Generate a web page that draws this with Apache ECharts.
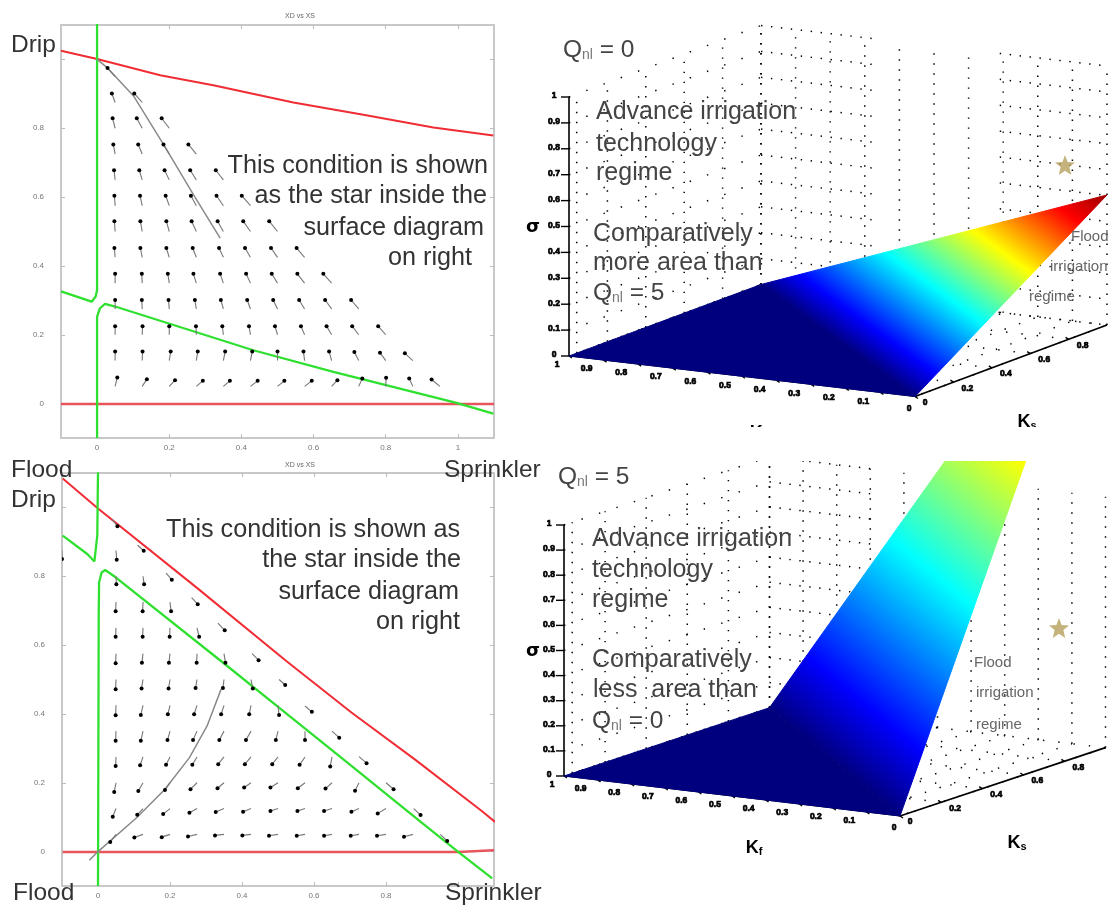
<!DOCTYPE html>
<html><head><meta charset="utf-8">
<style>html,body{margin:0;padding:0;background:#fff}#c{width:1116px;height:909px;filter:blur(0.7px)}</style>
<script src="https://cdn.jsdelivr.net/npm/echarts@6/dist/echarts.min.js"></script>
</head><body><div id="c"></div>
<script>
const phaseTicks=[0,0.2,0.4,0.6,0.8,1];
const phaseTickLabelsY=[0,0.2,0.4,0.6,0.8];
const phaseTickLabelsXA=[0,0.2,0.4,0.6,0.8,1];
const phaseTickLabelsXB=[0,0.2,0.4,0.6,0.8];
const redTopA=[[-0.1,1.025],[0,1.001],[0.175,0.954],[0.322,0.925],[0.544,0.875],[0.738,0.839],[0.932,0.802],[1.098,0.779]];
const greenUpperA=[[-0.1,0.326],[-0.015,0.296],[-0.004,0.311],[0,0.33],[0,1.103]];
const greenLowerA=[[0,-0.1],[0,0.253],[0.008,0.277],[0.022,0.29],[0.05,0.282],[0.433,0.155],[0.655,0.092],[0.996,0.002],[1.098,-0.029]];
const redBaseA=[[-0.1,-0.001],[1.1,-0.001]];
const orbitA=[[0,1],[0.027,0.977],[0.101,0.894],[0.184,0.753],[0.267,0.607],[0.341,0.481]];
const redTopB=[[-0.098,1.084],[0,0.997],[0.274,0.767],[0.523,0.554],[0.704,0.404],[0.88,0.268],[1.066,0.118],[1.103,0.086]];
const greenUpperB=[[-0.098,0.918],[-0.029,0.864],[-0.01,0.843],[-0.002,0.918],[0,1.102]];
const greenLowerB=[[0,-0.1],[0.002,0.685],[0.003,0.782],[0.01,0.811],[0.02,0.818],[0.049,0.797],[0.352,0.545],[0.508,0.414],[0.704,0.249],[0.899,0.084],[0.997,0.002],[1.095,-0.078]];
const redBaseB=[[-0.098,-0.001],[1,-0.001],[1.1,0.004]];
const orbitB=[[-0.024,-0.025],[0,0],[0.108,0.099],[0.186,0.181],[0.254,0.273],[0.303,0.365],[0.342,0.472]];
// tail x, tail y, head x, head y
const fieldA=[
[.05,.05,.056,.076],[.125,.05,.138,.071],[.2,.05,.216,.068],[.275,.05,.293,.066],[.35,.05,.368,.066],[.425,.05,.445,.066],[.5,.05,.519,.066],[.575,.05,.595,.066],[.65,.05,.666,.068],[.725,.05,.735,.073],[.8,.05,.801,.075],[.875,.05,.865,.073],[.95,.05,.927,.07],
[.05,.125,.05,.151],[.125,.125,.126,.151],[.2,.125,.204,.151],[.275,.125,.279,.151],[.35,.125,.355,.151],[.425,.125,.43,.151],[.5,.125,.5,.151],[.575,.125,.572,.151],[.65,.125,.643,.151],[.725,.125,.713,.15],[.8,.125,.784,.148],[.875,.125,.853,.146],
[.05,.2,.05,.225],[.125,.2,.126,.225],[.2,.2,.2,.225],[.275,.2,.274,.225],[.35,.2,.347,.225],[.425,.2,.421,.225],[.5,.2,.493,.225],[.575,.2,.565,.225],[.65,.2,.636,.225],[.725,.2,.707,.225],[.8,.2,.779,.225],
[.05,.275,.05,.301],[.125,.275,.124,.301],[.2,.275,.198,.301],[.275,.275,.271,.301],[.35,.275,.343,.301],[.425,.275,.416,.301],[.5,.275,.488,.301],[.575,.275,.56,.301],[.65,.275,.632,.301],[.725,.275,.704,.301],
[.05,.35,.05,.377],[.125,.35,.124,.377],[.2,.35,.196,.377],[.275,.35,.267,.377],[.35,.35,.341,.377],[.425,.35,.413,.377],[.5,.35,.484,.377],[.575,.35,.555,.377],[.65,.35,.627,.377],
[.05,.425,.048,.452],[.125,.425,.12,.452],[.2,.425,.192,.452],[.275,.425,.265,.452],[.35,.425,.338,.452],[.425,.425,.41,.452],[.5,.425,.482,.452],[.575,.425,.553,.452],
[.05,.5,.048,.53],[.125,.5,.12,.53],[.2,.5,.192,.53],[.275,.5,.262,.53],[.35,.5,.334,.53],[.425,.5,.405,.53],[.5,.5,.477,.53],
[.05,.575,.048,.604],[.125,.575,.119,.604],[.2,.575,.19,.604],[.275,.575,.26,.604],[.35,.575,.331,.604],[.425,.575,.401,.604],
[.05,.65,.047,.678],[.125,.65,.117,.678],[.2,.65,.187,.678],[.275,.65,.258,.678],[.35,.65,.329,.678],
[.05,.725,.045,.753],[.125,.725,.114,.753],[.2,.725,.184,.753],[.275,.725,.253,.753],
[.05,.8,.043,.829],[.125,.8,.11,.829],[.2,.8,.179,.829],
[.05,.875,.041,.901],[.125,.875,.103,.901],
[.05,.95,.029,.975]];
const fieldB=[
[.05,.05,.034,.028],[.125,.05,.101,.041],[.2,.05,.177,.042],[.275,.05,.25,.044],[.35,.05,.325,.047],[.425,.05,.401,.047],[.5,.05,.475,.046],[.575,.05,.552,.046],[.65,.05,.628,.046],[.725,.05,.702,.046],[.8,.05,.775,.046],[.875,.05,.85,.043],[.951,.05,.97,.031],
[.05,.125,.041,.101],[.125,.125,.109,.107],[.2,.125,.181,.109],[.275,.125,.254,.113],[.35,.125,.327,.115],[.425,.125,.403,.116],[.5,.125,.479,.118],[.575,.125,.554,.118],[.65,.125,.628,.118],[.725,.125,.704,.116],[.8,.125,.777,.111],[.877,.125,.896,.106],
[.05,.2,.045,.173],[.125,.2,.112,.176],[.2,.2,.186,.179],[.275,.2,.257,.181],[.35,.2,.332,.184],[.425,.2,.406,.186],[.5,.2,.479,.186],[.575,.2,.555,.184],[.65,.2,.632,.183],[.725,.2,.714,.177],[.8,.2,.821,.181],
[.05,.275,.049,.249],[.125,.275,.117,.251],[.2,.275,.189,.252],[.275,.275,.262,.252],[.35,.275,.334,.254],[.425,.275,.408,.254],[.5,.275,.484,.254],[.575,.275,.56,.252],[.65,.275,.645,.247],[.725,.276,.746,.257],
[.05,.35,.049,.322],[.125,.35,.119,.322],[.2,.35,.193,.324],[.275,.35,.264,.324],[.35,.35,.337,.324],[.425,.35,.411,.324],[.5,.35,.494,.324],[.575,.35,.575,.324],[.65,.35,.67,.331],
[.05,.425,.049,.396],[.125,.425,.119,.397],[.2,.425,.194,.399],[.275,.425,.267,.399],[.35,.425,.342,.399],[.425,.425,.42,.399],[.5,.425,.503,.397],[.575,.423,.594,.406],
[.05,.5,.049,.472],[.125,.5,.121,.474],[.2,.5,.196,.474],[.275,.5,.271,.475],[.35,.5,.347,.475],[.425,.5,.43,.474],[.503,.5,.52,.484],
[.05,.575,.049,.547],[.125,.575,.122,.549],[.2,.575,.197,.549],[.275,.575,.274,.549],[.35,.575,.354,.549],[.428,.575,.446,.556],
[.05,.65,.049,.624],[.125,.65,.124,.624],[.2,.65,.199,.624],[.275,.65,.281,.624],[.333,.664,.352,.643],
[.05,.725,.049,.698],[.125,.725,.124,.698],[.2,.725,.203,.698],[.26,.738,.277,.719],
[.05,.8,.051,.777],[.125,.8,.128,.777],[.189,.809,.205,.79],
[.05,.875,.052,.848],[.11,.89,.127,.874],
[.039,.966,.054,.945],
[-.1,.875,-.1,.85]];

// surface corners as [Kf, Ks, height]
const flatZero=[[1,0,0],[1,1,0],[0,0,0]];
const rampZero=[[1,1,0],[0,0,0],[0,1,0.502]];
const flatFive=[[1,0,0],[1,1,0],[0,0,0]];
const rampFive=[[1,1,0],[0,0,0],[0,1,2.04]];
const starZero=[545,165];
const starFive=[539,628];
const jetStops=[[0,'#00007f'],[0.11,'#0000ff'],[0.36,'#00ffff'],[0.61,'#ffff00'],[0.86,'#ff0000'],[1,'#9b0000']];
const heightTicks=[0,0.1,0.2,0.3,0.4,0.5,0.6,0.7,0.8,0.9,1];
const kfTicks=[0,0.1,0.2,0.3,0.4,0.5,0.6,0.7,0.8,0.9,1];
const ksTicks=[0,0.2,0.4,0.6,0.8];
const ksWall=[0.04,0.2,0.4,0.6,0.8,1];
const rowSpansZero=[[1,0.68],[0.31,0]];
const rowSpansFive=[[1,0.68]];

const viewZero={ox:915,oy:396.5,kx:-346,ky:-40.5,sx:192,sy:-71.5,h:259};
const viewFive={ox:900,oy:816,kx:-336,ky:-40,sx:205.5,sy:-68.3,h:251};
const project=(v,p)=>[v.ox+p[0]*v.kx+p[1]*v.sx, v.oy+p[0]*v.ky+p[1]*v.sy-p[2]*v.h];

const chart=echarts.init(document.getElementById('c'),null,{renderer:'canvas'});

const jet=(x1,y1,x2,y2)=>new echarts.graphic.LinearGradient(x1,y1,x2,y2,jetStops.map(s=>({offset:s[0],color:s[1]})),true);

function lineSeries(data,ax,color,width,z){
  return {type:'line',data,xAxisIndex:ax,yAxisIndex:ax,showSymbol:false,symbol:'none',silent:true,animation:false,clip:true,z:z||3,lineStyle:{color,width}};
}
function fieldSeries(data,ax){
  return {type:'custom',xAxisIndex:ax,yAxisIndex:ax,data,silent:true,animation:false,clip:true,z:4,
    encode:{x:0,y:1},
    renderItem:(p,api)=>{
      const t=api.coord([api.value(0),api.value(1)]), h=api.coord([api.value(2),api.value(3)]);
      return {type:'group',children:[
        {type:'line',shape:{x1:t[0],y1:t[1],x2:h[0],y2:h[1]},style:{stroke:'#777',lineWidth:1.1}},
        {type:'circle',shape:{cx:h[0],cy:h[1],r:2},style:{fill:'#000'}}
      ]};
    }};
}
function panelAxes(gi,xa,ya,xLabels){
  const ticks={show:true,inside:true,length:4,lineStyle:{color:'#bbb',width:1},customValues:phaseTicks};
  const line={show:true,onZero:false,lineStyle:{color:'#c8c8c8',width:2}};
  const base={type:'value',min:-0.1,max:1.1,gridIndex:gi,splitLine:{show:false},axisLine:line,axisTick:ticks};
  const lab={color:'#777',fontSize:8,fontFamily:'Liberation Sans',formatter:v=>String(+v.toFixed(1))};
  xa.push({...base,position:'bottom',axisLabel:{...lab,customValues:xLabels,margin:6}});
  ya.push({...base,position:'left',axisLabel:{...lab,customValues:phaseTickLabelsY,margin:17,padding:[0,0,6,0]}});
  return {xTop:{...base,position:'top',axisLabel:{show:false}},yRight:{...base,position:'right',axisLabel:{show:false}}};
}
function plane(gi,xa,ya,x0,x1,y0,y1){
  xa.push({type:'value',gridIndex:gi,min:x0,max:x1,show:false});
  ya.push({type:'value',gridIndex:gi,min:y0,max:y1,inverse:true,show:false});
}
function dotted(view,ax,segs,dash){
  return {type:'custom',xAxisIndex:ax,yAxisIndex:ax,data:segs.map((s,i)=>[i,i]),silent:true,animation:false,clip:true,z:2,
    renderItem:(p,api)=>{
      const s=segs[p.dataIndex], a=api.coord(project(view,s[0])), b=api.coord(project(view,s[1]));
      return {type:'line',shape:{x1:a[0],y1:a[1],x2:b[0],y2:b[1]},style:{stroke:'#000',lineWidth:1.5,lineDash:s[2]||dash}};
    }};
}
function wallSegments(spans){
  const segs=[];
  heightTicks.forEach(h=>{
    segs.push([[1,0,h],[1,1,h],[1.4,17]]);
    spans.forEach(sp=>segs.push([[sp[0],1,h],[sp[1],1,h],[1.4,8.6]]));
  });
  ksWall.forEach(s=>segs.push([[1,s,0],[1,s,1],[1.4,8.6]]));
  kfTicks.forEach(k=>segs.push([[k,1,0],[k,1,1],[1.4,8.6]]));
  kfTicks.forEach(k=>segs.push([[k,0,0],[k,1,0],[1.4,14]]));
  ksWall.forEach(s=>segs.push([[0,s,0],[1,s,0],[1.4,14]]));
  return segs;
}
function surfaceSeries(view,ax,flat,ramp){
  return {type:'custom',xAxisIndex:ax,yAxisIndex:ax,data:[[0,0]],silent:true,animation:false,clip:true,z:5,
    renderItem:(p,api)=>{
      const pts=a=>a.map(q=>api.coord(project(view,q)));
      const F=pts(flat),R=pts(ramp);
      const d=R[0],b=R[1],c=R[2];
      const ex=b[0]-d[0],ey=b[1]-d[1],len=Math.hypot(ex,ey);
      const nx=ey/len,ny=-ex/len;
      const L=(c[0]-d[0])*nx+(c[1]-d[1])*ny;
      const g=jet(d[0],d[1],d[0]+L*nx,d[1]+L*ny);
      return {type:'group',children:[
        {type:'polygon',shape:{points:R},style:{fill:g,stroke:g,lineWidth:1}},
        {type:'polygon',shape:{points:F},style:{fill:'#00007f',stroke:'#00007f',lineWidth:1}}
      ]};
    }};
}
function frameSeries(view,ax,tickLabelFont){
  return {type:'custom',xAxisIndex:ax,yAxisIndex:ax,data:[[0,0]],silent:true,animation:false,clip:false,z:3,
    renderItem:(p,api)=>{
      const at=q=>api.coord(project(view,q));
      const kids=[];
      const seg=(a,b,w)=>kids.push({type:'line',shape:{x1:a[0],y1:a[1],x2:b[0],y2:b[1]},style:{stroke:'#000',lineWidth:w}});
      const txt=(a,dx,dy,s)=>kids.push({type:'text',style:{x:a[0]+dx,y:a[1]+dy,text:s,font:tickLabelFont,fill:'#000',stroke:'#000',lineWidth:0.7,align:'center',verticalAlign:'middle'}});
      seg(at([1,0,0]),at([1,0,1]),1.6);
      heightTicks.forEach(h=>{const a=at([1,0,h]);seg(a,[a[0]-8,a[1]],1.4);txt(a,-15,-1,String(h));});
      seg(at([0,0,0]),at([0,1,0]),1.8);
      seg(at([0,0,0]),at([1,0,0]),1);
      kfTicks.forEach(k=>{const a=at([k,0,0]);seg(a,[a[0]+3,a[1]+2],1.4);txt(a,k===1?-12:k===0?-6:-17,k===0?12:9,String(k));});
      ksTicks.forEach(s=>{const a=at([0,s,0]);seg(a,[a[0]-3,a[1]-2],1.4);txt(a,s===0?10:14,6,String(s));});
      return {type:'group',children:kids};
    }};
}
const starPath='path://M50 0L63 33L100 36L72 58L81 96L50 76L19 96L28 58L0 36L37 33Z';
function starSeries(ax,pt){
  return {type:'scatter',xAxisIndex:ax,yAxisIndex:ax,data:[pt],symbol:starPath,symbolSize:20,silent:true,animation:false,z:8,itemStyle:{color:'#b5a05c'}};
}

const xAxes=[],yAxes=[];
const edgeA=panelAxes(0,xAxes,yAxes,phaseTickLabelsXA);
const edgeB=panelAxes(1,xAxes,yAxes,phaseTickLabelsXB);
plane(2,xAxes,yAxes,0,596,0,450);
plane(3,xAxes,yAxes,0,596,461,909);
xAxes.push(edgeA.xTop,edgeB.xTop); yAxes.push(edgeA.yRight,edgeB.yRight);

const viewZeroLocal={...viewZero,ox:viewZero.ox-520};
const viewFiveLocal={...viewFive,ox:viewFive.ox-520};

const corner={fontFamily:'Liberation Sans',fontSize:24.5,fill:'#333'};
const big={fontFamily:'Liberation Sans',fontSize:25.2,fill:'#333'};
const big25={fontFamily:'Liberation Sans',fontSize:25,fill:'#444'};
const small={fontFamily:'Liberation Sans',fontSize:15,fill:'#666'};
function tx(text,x,y,st,align){return {type:'text',x,y,z:20,silent:true,style:{...st,text,align:align||'left',verticalAlign:'middle'}};}
function qnl(suffix,x,y){
  return {type:'text',x,y,z:20,silent:true,style:{text:'{q|Q}{s|nl}{q| = '+suffix+'}',verticalAlign:'middle',align:'left',
    rich:{q:{fontFamily:'Liberation Sans',fontSize:24.5,fill:'#444',color:'#444'},s:{fontFamily:'Liberation Sans',fontSize:14,fill:'#777',color:'#777',padding:[10,0,0,0]}}}};
}
function kLabel(sub,x,y,z){
  return {type:'text',x,y,z:z||20,silent:true,style:{text:'{k|K}{s|'+sub+'}',verticalAlign:'middle',align:'center',
    rich:{k:{fontFamily:'Liberation Sans',fontWeight:'bold',fontSize:18,fill:'#000',color:'#000'},s:{fontFamily:'Liberation Sans',fontWeight:'bold',fontSize:11,fill:'#000',color:'#000',padding:[8,0,0,0]}}}};
}
function zLabel(y){
  return {type:'text',x:533,y,z:20,silent:true,style:{text:'σ',font:'bold 18px DejaVu Sans',fill:'#000',align:'center',verticalAlign:'middle'}};
}

chart.setOption({
  animation:false,backgroundColor:'#fff',
  title:[
    {text:'XD vs XS',left:295,top:8,textAlign:'center',textStyle:{fontSize:7,fontWeight:'normal',color:'#666',fontFamily:'Liberation Sans'}},
    {text:'XD vs XS',left:295,top:457,textAlign:'center',textStyle:{fontSize:7,fontWeight:'normal',color:'#666',fontFamily:'Liberation Sans'}}
  ],
  grid:[
    {left:61,top:25,width:433,height:413,containLabel:false},
    {left:62,top:473,width:432,height:413,containLabel:false},
    {left:520,top:0,width:596,height:450,containLabel:false},
    {left:520,top:461,width:596,height:448,containLabel:false}
  ],
  xAxis:xAxes,yAxis:yAxes,
  series:[
    lineSeries(redBaseA,0,'#e8545c',2.4),
    lineSeries(redTopA,0,'#f02c34',2),
    lineSeries(greenUpperA,0,'#30e030',2.3),
    lineSeries(greenLowerA,0,'#30e030',2.3),
    lineSeries(orbitA,0,'#8a8a8a',1.5),
    fieldSeries(fieldA,0),
    lineSeries(redBaseB,1,'#e8545c',2.4),
    lineSeries(redTopB,1,'#f02c34',2),
    lineSeries(greenUpperB,1,'#30e030',2.3),
    lineSeries(greenLowerB,1,'#30e030',2.3),
    lineSeries(orbitB,1,'#8a8a8a',1.5),
    fieldSeries(fieldB,1),
    dotted(viewZeroLocal,2,wallSegments(rowSpansZero)),
    frameSeries(viewZeroLocal,2,'bold 8.5px Liberation Sans'),
    surfaceSeries(viewZeroLocal,2,flatZero,rampZero),
    starSeries(2,starZero),
    dotted(viewFiveLocal,3,wallSegments(rowSpansFive)),
    frameSeries(viewFiveLocal,3,'bold 8.5px Liberation Sans'),
    surfaceSeries(viewFiveLocal,3,flatFive,rampFive),
    starSeries(3,starFive)
  ],
  graphic:[
    tx('Drip',11,45,corner),tx('Flood',11,470,corner),tx('Drip',11,500,corner),tx('Flood',13,893,corner),
    tx('Sprinkler',444,470,corner),tx('Sprinkler',445,893,corner),
    tx('This condition is shown',488,166,big,'right'),tx('as the star inside the',487,196,big,'right'),tx('surface diagram',484,228,big,'right'),tx('on right',472,258,big,'right'),
    tx('This condition is shown as',460,530,big,'right'),tx('the star inside the',461,560,big,'right'),tx('surface diagram',459,592,big,'right'),tx('on right',460,622,big,'right'),
    qnl('0',563,50),
    tx('Advance irrigation',596,112,big25),tx('technology',596,144,big25),tx('regime',596,173,big25),
    tx('Comparatively',593,234,big25),tx('more area than',593,263,big25),qnl('5',593,293),
    tx('Flood',1071,237,small),tx('irrigation',1050,267,small),tx('regime',1029,297,small),
    qnl('5',558,477),
    tx('Advance irrigation',592,539,big25),tx('technology',592,570,big25),tx('regime',592,600,big25),
    tx('Comparatively',592,660,big25),tx('less  area than',593,690,big25),qnl('0',592,721),
    tx('Flood',974,663,small),tx('irrigation',976,693,small),tx('regime',976,725,small),
    kLabel('s',1027,422),kLabel('f',758,433),
    {type:'rect',z:21,silent:true,shape:{x:700,y:427,width:416,height:20},style:{fill:'#fff'}},
    kLabel('f',754,848),kLabel('s',1017,843),
    zLabel(227),zLabel(651)
  ]
});
</script></body></html>
